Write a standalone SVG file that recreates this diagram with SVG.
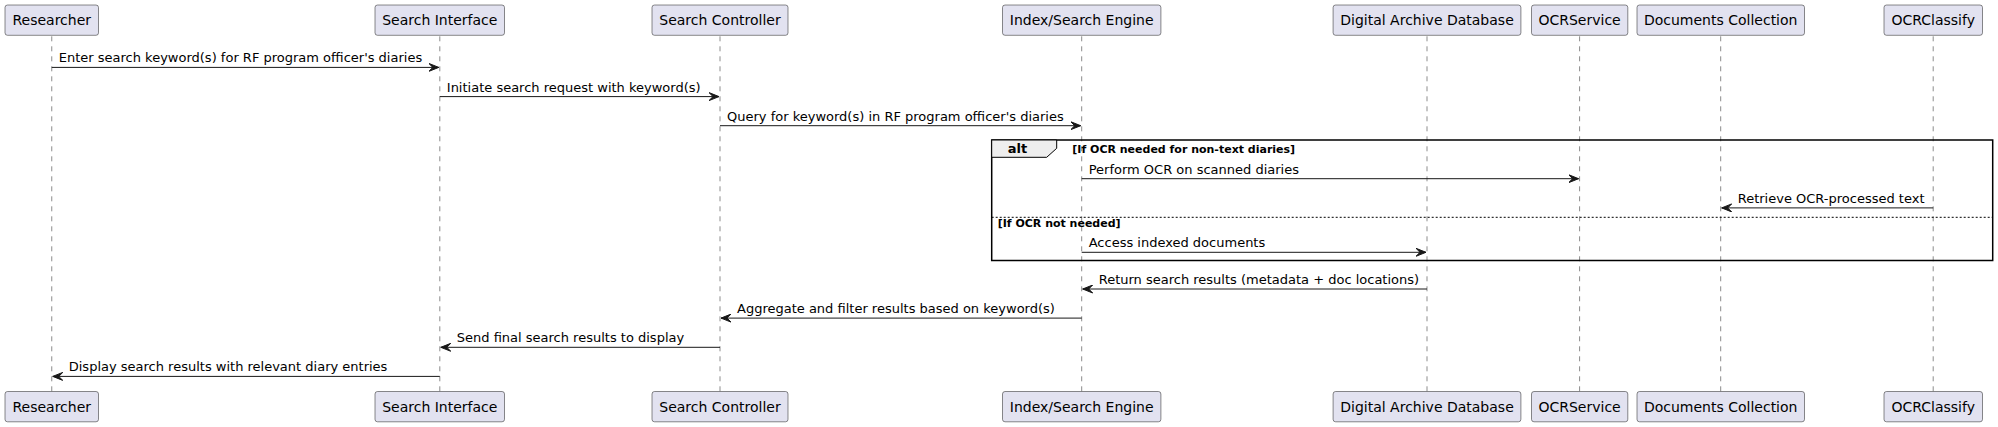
<svg xmlns="http://www.w3.org/2000/svg" width="1998" height="427" viewBox="0 0 1998 427">
<defs>
<marker id="ah" markerUnits="userSpaceOnUse" markerWidth="11" markerHeight="9" refX="10" refY="4.5" orient="auto">
<path d="M0,0.5 L10,4.5 L0,8.5 L4,4.5 Z" fill="#181818" stroke="#181818" stroke-width="1"/>
</marker>
</defs>
<style>
.box{fill:#E2E2F0;stroke:#181818;stroke-width:0.5;}
.pt{font-family:"DejaVu Sans",sans-serif;font-size:14px;fill:#000;text-anchor:middle;}
.life{stroke:#181818;stroke-width:0.5;stroke-dasharray:5,5;}
.msg{stroke:#181818;stroke-width:1;fill:none;marker-end:url(#ah);}
.mt{font-family:"DejaVu Sans",sans-serif;font-size:13px;fill:#000;}
.frame{fill:none;stroke:#000;stroke-width:1.5;}
.tab{fill:#EEEEEE;stroke:#000;stroke-width:1;}
.sep{stroke:#000;stroke-width:1;stroke-dasharray:2,2;}
.bold13{font-family:"DejaVu Sans",sans-serif;font-size:13px;font-weight:bold;fill:#000;}
.bold11{font-family:"DejaVu Sans",sans-serif;font-size:11px;font-weight:bold;fill:#000;}
</style>
<rect width="1998" height="427" fill="#FFFFFF"/>
<g id="p-researcher">
<line class="life" x1="51.75" y1="36.3" x2="51.75" y2="391.5"/>
<rect class="box" x="5" y="5" width="93.5" height="30.3" rx="2.5"/>
<text class="pt" x="51.75" y="25">Researcher</text>
<rect class="box" x="5" y="391.5" width="93.5" height="30.3" rx="2.5"/>
<text class="pt" x="51.75" y="411.5">Researcher</text>
</g>
<g id="p-search-interface">
<line class="life" x1="439.8" y1="36.3" x2="439.8" y2="391.5"/>
<rect class="box" x="375" y="5" width="129.5" height="30.3" rx="2.5"/>
<text class="pt" x="439.8" y="25">Search Interface</text>
<rect class="box" x="375" y="391.5" width="129.5" height="30.3" rx="2.5"/>
<text class="pt" x="439.8" y="411.5">Search Interface</text>
</g>
<g id="p-search-controller">
<line class="life" x1="720" y1="36.3" x2="720" y2="391.5"/>
<rect class="box" x="652" y="5" width="136" height="30.3" rx="2.5"/>
<text class="pt" x="720" y="25">Search Controller</text>
<rect class="box" x="652" y="391.5" width="136" height="30.3" rx="2.5"/>
<text class="pt" x="720" y="411.5">Search Controller</text>
</g>
<g id="p-index-engine">
<line class="life" x1="1081.7" y1="36.3" x2="1081.7" y2="391.5"/>
<rect class="box" x="1002.5" y="5" width="158.4" height="30.3" rx="2.5"/>
<text class="pt" x="1081.7" y="25">Index/Search Engine</text>
<rect class="box" x="1002.5" y="391.5" width="158.4" height="30.3" rx="2.5"/>
<text class="pt" x="1081.7" y="411.5">Index/Search Engine</text>
</g>
<g id="p-digital-archive">
<line class="life" x1="1427" y1="36.3" x2="1427" y2="391.5"/>
<rect class="box" x="1333.1" y="5" width="187.8" height="30.3" rx="2.5"/>
<text class="pt" x="1427" y="25">Digital Archive Database</text>
<rect class="box" x="1333.1" y="391.5" width="187.8" height="30.3" rx="2.5"/>
<text class="pt" x="1427" y="411.5">Digital Archive Database</text>
</g>
<g id="p-ocrservice">
<line class="life" x1="1579.6" y1="36.3" x2="1579.6" y2="391.5"/>
<rect class="box" x="1531.5" y="5" width="96.3" height="30.3" rx="2.5"/>
<text class="pt" x="1579.6" y="25">OCRService</text>
<rect class="box" x="1531.5" y="391.5" width="96.3" height="30.3" rx="2.5"/>
<text class="pt" x="1579.6" y="411.5">OCRService</text>
</g>
<g id="p-documents">
<line class="life" x1="1720.7" y1="36.3" x2="1720.7" y2="391.5"/>
<rect class="box" x="1637" y="5" width="167.5" height="30.3" rx="2.5"/>
<text class="pt" x="1720.7" y="25">Documents Collection</text>
<rect class="box" x="1637" y="391.5" width="167.5" height="30.3" rx="2.5"/>
<text class="pt" x="1720.7" y="411.5">Documents Collection</text>
</g>
<g id="p-ocrclassify">
<line class="life" x1="1933.2" y1="36.3" x2="1933.2" y2="391.5"/>
<rect class="box" x="1884" y="5" width="98.5" height="30.3" rx="2.5"/>
<text class="pt" x="1933.2" y="25">OCRClassify</text>
<rect class="box" x="1884" y="391.5" width="98.5" height="30.3" rx="2.5"/>
<text class="pt" x="1933.2" y="411.5">OCRClassify</text>
</g>
<g id="alt-frame">
<rect class="frame" x="991.7" y="140" width="1001" height="120.5"/>
<path class="tab" d="M991.7,140 L1056.7,140 L1056.7,148.3 L1046.7,157.3 L991.7,157.3 Z"/>
<text class="bold13" x="1007.7" y="153.3">alt</text>
<text class="bold11" x="1072.3" y="152.5">[If OCR needed for non-text diaries]</text>
<line class="sep" x1="991.7" y1="217.3" x2="1992.7" y2="217.3"/>
<text class="bold11" x="997.7" y="227">[If OCR not needed]</text>
</g>
<g id="connectors">
<line class="msg" x1="51.75" y1="67.4" x2="438.8" y2="67.4"/>
<text class="mt" x="58.75" y="62.4">Enter search keyword(s) for RF program officer's diaries</text>
<line class="msg" x1="439.8" y1="96.6" x2="719" y2="96.6"/>
<text class="mt" x="446.8" y="91.5">Initiate search request with keyword(s)</text>
<line class="msg" x1="720" y1="125.7" x2="1080.7" y2="125.7"/>
<text class="mt" x="727" y="120.6">Query for keyword(s) in RF program officer's diaries</text>
<line class="msg" x1="1081.7" y1="178.7" x2="1578.6" y2="178.7"/>
<text class="mt" x="1088.7" y="173.6">Perform OCR on scanned diaries</text>
<line class="msg" x1="1933.2" y1="207.9" x2="1721.7" y2="207.9"/>
<text class="mt" x="1737.7" y="202.8">Retrieve OCR-processed text</text>
<line class="msg" x1="1081.7" y1="252.3" x2="1426" y2="252.3"/>
<text class="mt" x="1088.7" y="247.2">Access indexed documents</text>
<line class="msg" x1="1427" y1="289" x2="1082.7" y2="289"/>
<text class="mt" x="1098.7" y="283.9">Return search results (metadata + doc locations)</text>
<line class="msg" x1="1081.7" y1="318.1" x2="721" y2="318.1"/>
<text class="mt" x="737" y="313">Aggregate and filter results based on keyword(s)</text>
<line class="msg" x1="720" y1="347.3" x2="440.8" y2="347.3"/>
<text class="mt" x="456.8" y="342.2">Send final search results to display</text>
<line class="msg" x1="439.8" y1="376.4" x2="52.75" y2="376.4"/>
<text class="mt" x="68.75" y="371.3">Display search results with relevant diary entries</text>
</g>
</svg>
